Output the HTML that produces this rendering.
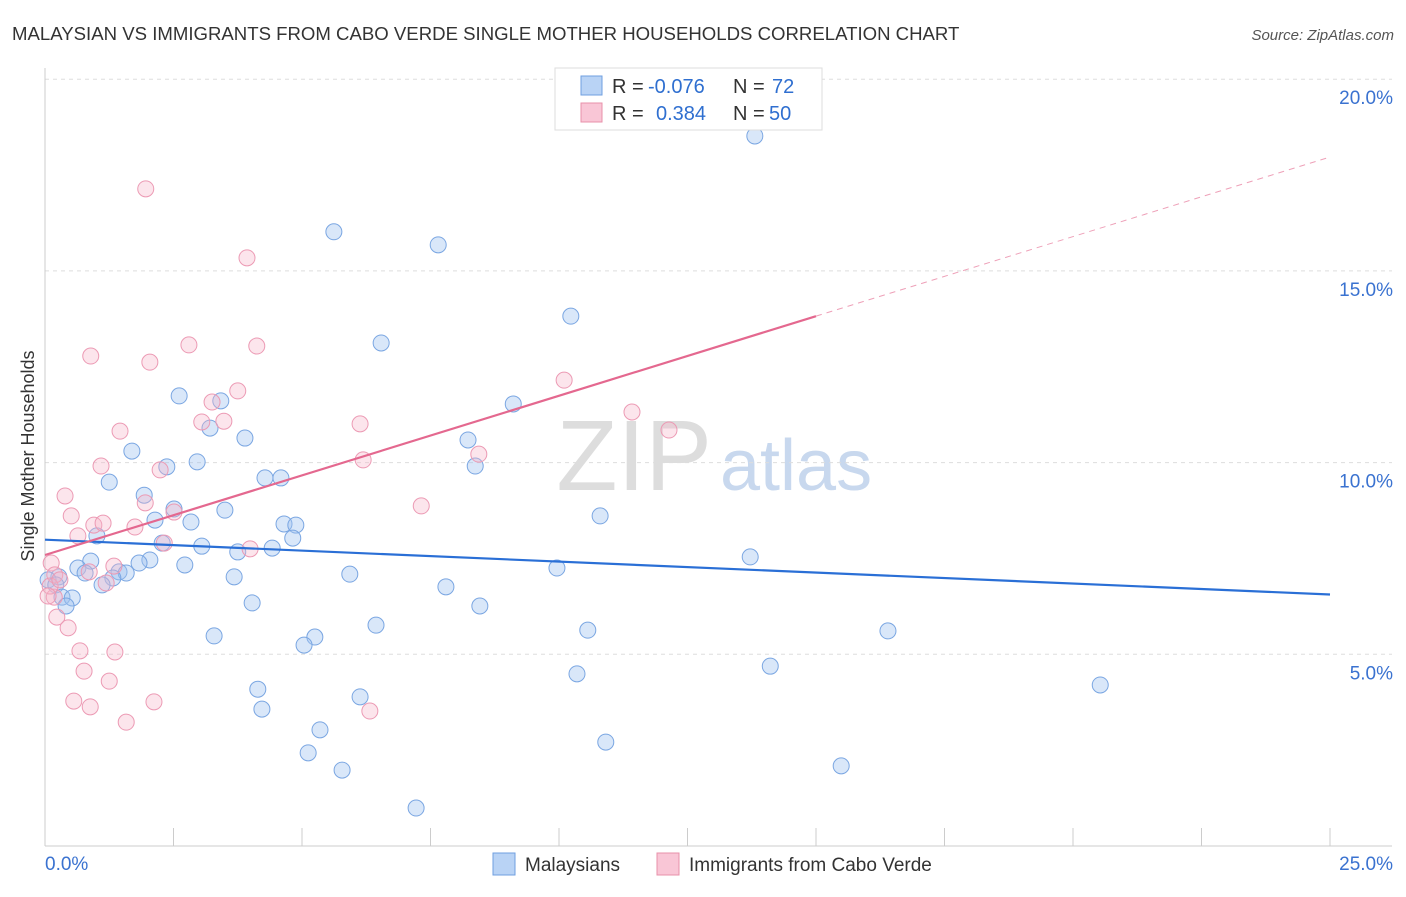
<!DOCTYPE html>
<html><head><meta charset="utf-8"><style>
body{margin:0;background:#fff;font-family:"Liberation Sans",sans-serif;}
svg text{font-family:"Liberation Sans",sans-serif;}
</style></head><body>
<svg id="chart" width="1406" height="892">
<text x="12" y="40" font-size="18.6" fill="#333">MALAYSIAN VS IMMIGRANTS FROM CABO VERDE SINGLE MOTHER HOUSEHOLDS CORRELATION CHART</text>
<text x="1394" y="40" font-size="15" fill="#555" font-style="italic" text-anchor="end">Source: ZipAtlas.com</text>
<text x="712" y="490" font-size="100" fill="#ddd" text-anchor="end" font-family="Liberation Serif">ZIP</text>
<text x="720" y="490" font-size="72" fill="#c8d8ee">atlas</text>
<text transform="translate(34,456) rotate(-90)" font-size="18" fill="#333" text-anchor="middle">Single Mother Households</text>
<g id="grid"></g><g id="axes"></g><g id="pts"></g><g id="lines"></g>
<g>
<rect x="555" y="68" width="267" height="62" fill="#fff" stroke="#ddd"/>
<rect x="581" y="76" width="21" height="19" fill="#b9d3f5" stroke="#6f9fe0"/>
<text x="612" y="93" font-size="20" fill="#333">R = </text><text x="648" y="93" font-size="20" fill="#2f6fd0">-0.076</text>
<text x="733" y="93" font-size="20" fill="#333">N = </text><text x="772" y="93" font-size="20" fill="#2f6fd0">72</text>
<rect x="581" y="103" width="21" height="19" fill="#f9c6d6" stroke="#e890aa"/>
<text x="612" y="120" font-size="20" fill="#333">R = </text><text x="656" y="120" font-size="20" fill="#2f6fd0">0.384</text>
<text x="733" y="120" font-size="20" fill="#333">N = </text><text x="769" y="120" font-size="20" fill="#2f6fd0">50</text>
</g>
<g>
<rect x="493" y="853" width="22" height="22" fill="#b9d3f5" stroke="#6f9fe0"/>
<text x="525" y="871" font-size="19" fill="#333">Malaysians</text>
<rect x="657" y="853" width="22" height="22" fill="#f9c6d6" stroke="#e890aa"/>
<text x="689" y="871" font-size="19" fill="#333">Immigrants from Cabo Verde</text>
</g>
</svg>
<script>
const yTicks=[5,10,15,20];
const yTickLabels=["5.0%","10.0%","15.0%","20.0%"];
const blueX=[13.81,5.62,7.65,10.23,6.54,2.61,3.42,9.11,3.21,3.89,8.23,1.69,2.96,8.37,2.37,1.25,4.28,4.59,1.93,2.51,3.50,2.14,2.84,10.80,4.65,4.88,4.82,1.01,3.05,3.75,4.42,2.28,13.72,0.89,2.04,1.83,2.72,0.64,1.44,1.58,0.78,1.32,0.27,0.06,0.21,1.11,3.68,5.93,9.96,7.80,0.33,0.53,0.41,4.03,8.46,6.44,10.56,16.40,3.29,5.25,5.04,14.11,10.35,20.53,4.14,6.13,4.22,5.35,10.91,5.12,5.78,15.49,7.22];
const blueY=[18.52,16.02,15.68,13.82,13.12,11.74,11.61,11.53,10.90,10.64,10.59,10.30,10.02,9.91,9.89,9.49,9.60,9.60,9.15,8.79,8.76,8.50,8.45,8.61,8.40,8.37,8.03,8.09,7.82,7.67,7.77,7.90,7.54,7.43,7.46,7.38,7.33,7.25,7.15,7.12,7.12,6.99,7.02,6.94,6.81,6.81,7.02,7.09,7.25,6.76,6.49,6.47,6.26,6.34,6.26,5.76,5.63,5.61,5.48,5.45,5.24,4.69,4.49,4.20,4.09,3.89,3.57,3.03,2.71,2.43,1.98,2.09,0.99];
const pinkX=[1.96,3.93,2.80,4.12,0.89,2.04,10.10,3.75,3.25,11.42,3.48,3.05,6.13,12.14,1.46,1.09,2.24,8.44,6.19,0.39,1.95,7.32,0.51,2.51,0.95,1.13,1.75,0.64,2.32,3.99,0.12,1.34,0.19,0.86,1.19,0.18,0.10,0.23,0.45,0.68,1.36,0.76,1.25,0.56,2.12,0.88,1.58,6.32,0.29,0.06];
const pinkY=[17.14,15.34,13.07,13.04,12.78,12.62,12.15,11.87,11.58,11.32,11.08,11.06,11.01,10.85,10.82,9.91,9.81,10.22,10.07,9.13,8.95,8.87,8.61,8.71,8.37,8.42,8.32,8.09,7.90,7.75,7.38,7.30,7.07,7.15,6.86,6.49,6.78,5.97,5.69,5.09,5.06,4.56,4.30,3.78,3.76,3.63,3.23,3.52,6.94,6.52];
const blueTrend=[7.99,6.56];
const pinkTrend=[7.59,13.82,17.97];
const NS="http://www.w3.org/2000/svg";
const sx=v=>45+v*51.4, sy=v=>846-v*38.34;
function mk(p,t,a){const e=document.createElementNS(NS,t);for(const k in a)e.setAttribute(k,a[k]);document.getElementById(p).appendChild(e);return e;}
yTicks.forEach((t,i)=>{
 const g=mk('grid','line',{x1:45,x2:1392,y1:sy(t),y2:sy(t),stroke:'#ddd','stroke-dasharray':'4,4'});
 
 
 const l=mk('axes','text',{x:1393,y:sy(t)+25,'font-size':19,fill:'#3a72d0','text-anchor':'end'});
 l.textContent=yTickLabels[i];
 
 
});
const ax=mk('axes','line',{x1:45,x2:1392,y1:846,y2:846,stroke:'#ccc'});


const ay=mk('axes','line',{x1:45,x2:45,y1:68,y2:846,stroke:'#ccc'});


for(let i=1;i<=10;i++){const t=mk('axes','line',{x1:sx(i*2.5),x2:sx(i*2.5),y1:828,y2:846,stroke:'#ccc'});
 
 }
const x0=mk('axes','text',{x:45,y:870,'font-size':19,fill:'#3a72d0'});x0.textContent='0.0%';


const x1=mk('axes','text',{x:1393,y:870,'font-size':19,fill:'#3a72d0','text-anchor':'end'});x1.textContent='25.0%';


blueX.forEach((v,i)=>{const c=mk('pts','circle',{cx:sx(v),cy:sy(blueY[i]),r:8,fill:'rgba(160,195,240,0.4)',stroke:'#7aa6e2','stroke-width':1});
 
 });
pinkX.forEach((v,i)=>{const c=mk('pts','circle',{cx:sx(v),cy:sy(pinkY[i]),r:8,fill:'rgba(245,180,200,0.35)',stroke:'#ec9ab4','stroke-width':1});
 
 });
const bl=mk('lines','line',{x1:sx(0),y1:sy(blueTrend[0]),x2:sx(25),y2:sy(blueTrend[1]),stroke:'#2a6fd6','stroke-width':2.2});


const pl=mk('lines','line',{x1:sx(0),y1:sy(pinkTrend[0]),x2:sx(15),y2:sy(pinkTrend[1]),stroke:'#e4688f','stroke-width':2.2});


const pd=mk('lines','line',{x1:sx(15),y1:sy(pinkTrend[1]),x2:sx(25),y2:sy(pinkTrend[2]),stroke:'#eea0b8','stroke-width':1,'stroke-dasharray':'6,5'});


</script>
</body></html>
